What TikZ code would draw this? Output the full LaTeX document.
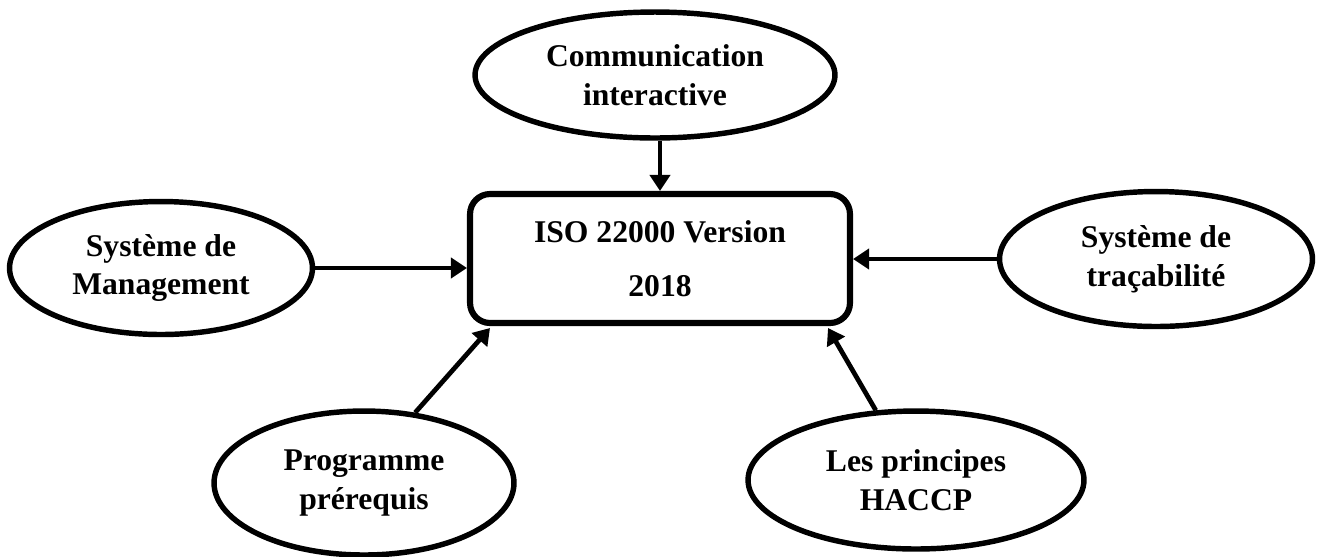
\documentclass[tikz,border=0pt]{standalone}
\usepackage{fontspec}
\setmainfont{Liberation Serif}
\usetikzlibrary{shapes.geometric,arrows.meta}

\tikzset{
  lbl/.style={font=\fontsize{18pt}{22pt}\selectfont\bfseries, align=center, inner sep=0pt},
  bubble/.style={lbl, ellipse, draw, line width=3.1pt},
  core/.style={lbl, draw, line width=3.5pt, rounded corners=0.4cm,
               font=\fontsize{18pt}{31pt}\selectfont\bfseries},
  arr/.style={line width=2.7pt, -{Triangle[length=0.32cm,width=0.4cm]}},
}

\begin{document}
\begin{tikzpicture}[x=0.02cm, y=-0.02cm]
  \useasboundingbox (0,0) rectangle (1317,556);

  % central box
  \node[core, minimum width=7.6cm, minimum height=2.58cm] (iso) at (660,258.5)
    {ISO 22000 Version\\2018};

  % surrounding ellipses
  \node[bubble, minimum width=7.2cm, minimum height=2.52cm] (comm) at (655,75)
    {Communication\\interactive};
  \node[bubble, minimum width=6.06cm, minimum height=2.66cm] (mgmt) at (161,268)
    {Système de\\Management};
  \node[bubble, minimum width=6.26cm, minimum height=2.7cm] (trace) at (1156,259)
    {Système de\\traçabilité};
  \node[bubble, minimum width=6.0cm, minimum height=2.88cm] (prp) at (364,483)
    {Programme\\prérequis};
  \node[bubble, minimum width=6.72cm, minimum height=2.76cm] (haccp) at (916,480)
    {Les principes\\HACCP};

  % arrow tips below the box corners
  \coordinate (tipL) at (490,328);
  \coordinate (tipR) at (828,328);

  % connectors
  \draw[arr] (iso.north |- comm.south) -- (iso.north);
  \draw[arr] (mgmt.east) -- (mgmt.east -| iso.west);
  \draw[arr] (trace.west) -- (trace.west -| iso.east);
  \draw[arr] (prp.54) -- (tipL);
  \draw[arr] (haccp.120) -- (tipR);
\end{tikzpicture}
\end{document}
